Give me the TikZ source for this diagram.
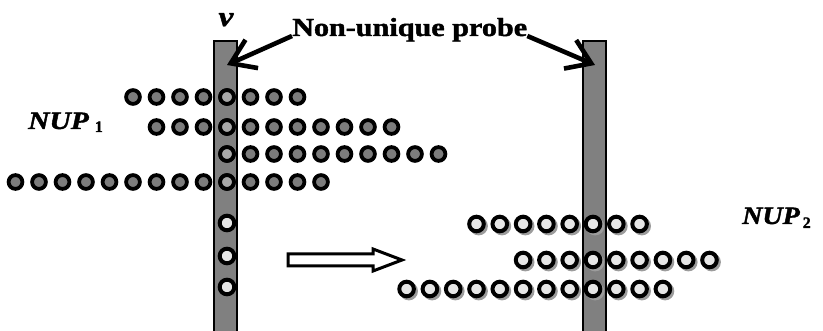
\documentclass[tikz,border=0pt]{standalone}
\usepackage{fontspec}
\setmainfont{Liberation Serif}[
  BoldFeatures={FakeBold=1.5},
  BoldItalicFeatures={FakeBold=1.5}]
\usetikzlibrary{arrows.meta}
\definecolor{bargray}{HTML}{808080}
\definecolor{dotdark}{HTML}{7C7C7C}
\definecolor{dotmid}{HTML}{A8A8A8}
\definecolor{dotlight}{HTML}{E6E6E6}
\definecolor{dotshadow}{HTML}{9C9C9C}
\begin{document}
\begin{tikzpicture}[x=1pt,y=-1pt,
  probebar/.style={fill=bargray,draw=black,line width=2.8pt},
  darkdot/.style={fill=dotdark,draw=black,line width=3.8pt},
  middot/.style={fill=dotmid,draw=black,line width=3.8pt},
  lightdot/.style={fill=dotlight,draw=black,line width=4pt},
  label/.style={inner sep=0pt,font=\bfseries},
  pointer/.style={line width=4.6pt,-{Straight Barb[length=23pt,width=31pt]}}
]
\useasboundingbox (0,0) rectangle (823,331);

% the two probe bars
\draw[probebar] (214,41) rectangle (237,340);
\draw[probebar] (583,41) rectangle (606,340);

% NUP_1 : dark dots, column 0 sits on the first probe
\foreach \y/\a/\b in {97/-4/3, 127/-3/7, 154/0/9, 182/-9/4}{
  \foreach \i in {\a,...,\b}{
    \draw[darkdot] (227+\i*23.5,\y) circle (6.9);
  }
  \draw[middot] (227,\y) circle (6.9);
}
\foreach \y in {223,256,287}{
  \draw[lightdot] (227,\y) circle (7.3);
}

% NUP_2 : light dots with a drop shadow, column 0 on the second probe
\foreach \y/\a/\b in {224/-5/2, 260/-3/5, 289/-8/3}{
  \foreach \i in {\a,...,\b}{
    \fill[dotshadow] (593+\i*23.3+2.2,\y+2.2) circle (9.2);
    \draw[lightdot] (593+\i*23.3,\y) circle (7.3);
  }
}

% hollow arrow between the two states
\draw[line width=3pt,fill=white,line join=miter]
  (288,254) -- (373,254) -- (373,249) -- (402,260) -- (373,271)
  -- (373,266) -- (288,266) -- cycle;

% labels
\node[label,anchor=base] (v) at (226,26)
  {\fontsize{28}{28}\selectfont\scalebox{1.2}[1]{\itshape v}};
\node[label,anchor=base west] (probe) at (292,36)
  {\fontsize{26}{26}\selectfont\scalebox{1.16}[1]{Non-unique probe}};
\node[label,anchor=base west] (nup1) at (28,129)
  {\fontsize{25}{25}\selectfont\scalebox{1.18}[1]{\itshape NUP}\hspace{6pt}\raisebox{-3pt}{\fontsize{16}{16}\selectfont 1}};
\node[label,anchor=base west] (nup2) at (742,224)
  {\fontsize{25}{25}\selectfont\scalebox{1.12}[1]{\itshape NUP}\hspace{3pt}\raisebox{-4pt}{\fontsize{16}{16}\selectfont 2}};

% pointers from the caption to both probes
\coordinate (tipL) at (227,65);
\coordinate (tipR) at (595,65);
\draw[pointer] (probe.base west) -- (tipL);
\draw[pointer] (probe.base east) -- (tipR);
\end{tikzpicture}
\end{document}
